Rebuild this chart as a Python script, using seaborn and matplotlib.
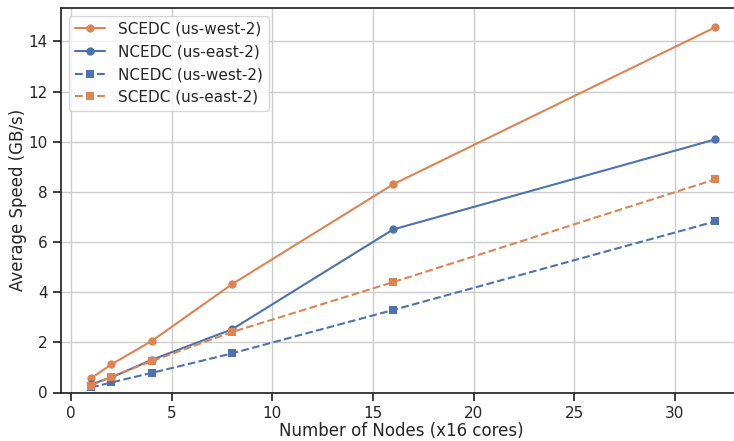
import matplotlib
matplotlib.use("Agg")
import matplotlib.pyplot as plt
import seaborn as sns
import pandas as pd

nodes = [1, 2, 4, 8, 16, 32]
scedc_west = [0.57, 1.12, 2.05, 4.32, 8.30, 14.56]
ncedc_east = [0.33, 0.60, 1.30, 2.52, 6.50, 10.09]
ncedc_west = [0.20, 0.40, 0.78, 1.56, 3.29, 6.82]
scedc_east = [0.27, 0.63, 1.25, 2.41, 4.40, 8.50]

series = [
    ("SCEDC (us-west-2)", scedc_west, 1, "o", "-"),
    ("NCEDC (us-east-2)", ncedc_east, 0, "o", "-"),
    ("NCEDC (us-west-2)", ncedc_west, 0, "s", "--"),
    ("SCEDC (us-east-2)", scedc_east, 1, "s", "--"),
]

sns.set_theme(style="ticks", context="notebook")
palette = sns.color_palette("deep")

fig = plt.figure(figsize=(7.34, 4.41), dpi=100)
ax = fig.add_axes([61 / 734, 48.5 / 441, 1 - 61 / 734 + 0.01, (392.5 - 8) / 441])

for name, vals, ci, mk, ls in series:
    df = pd.DataFrame({"nodes": nodes, "speed": vals})
    sns.lineplot(data=df, x="nodes", y="speed", ax=ax, color=palette[ci],
                 marker=mk, linestyle=ls, markersize=6, markeredgewidth=0,
                 linewidth=1.5, label=name)

ax.grid(True, color=".8", linewidth=1)
ax.set_xlim(-0.5, 33.3)
ax.set_ylim(0, 15.33)
ax.set_xlabel("Number of Nodes (x16 cores)", fontsize=12, labelpad=1)
ax.set_ylabel("Average Speed (GB/s)", fontsize=12, labelpad=1)
ax.legend(loc="upper left", fontsize=11)

fig.savefig("out.png", dpi=100)
